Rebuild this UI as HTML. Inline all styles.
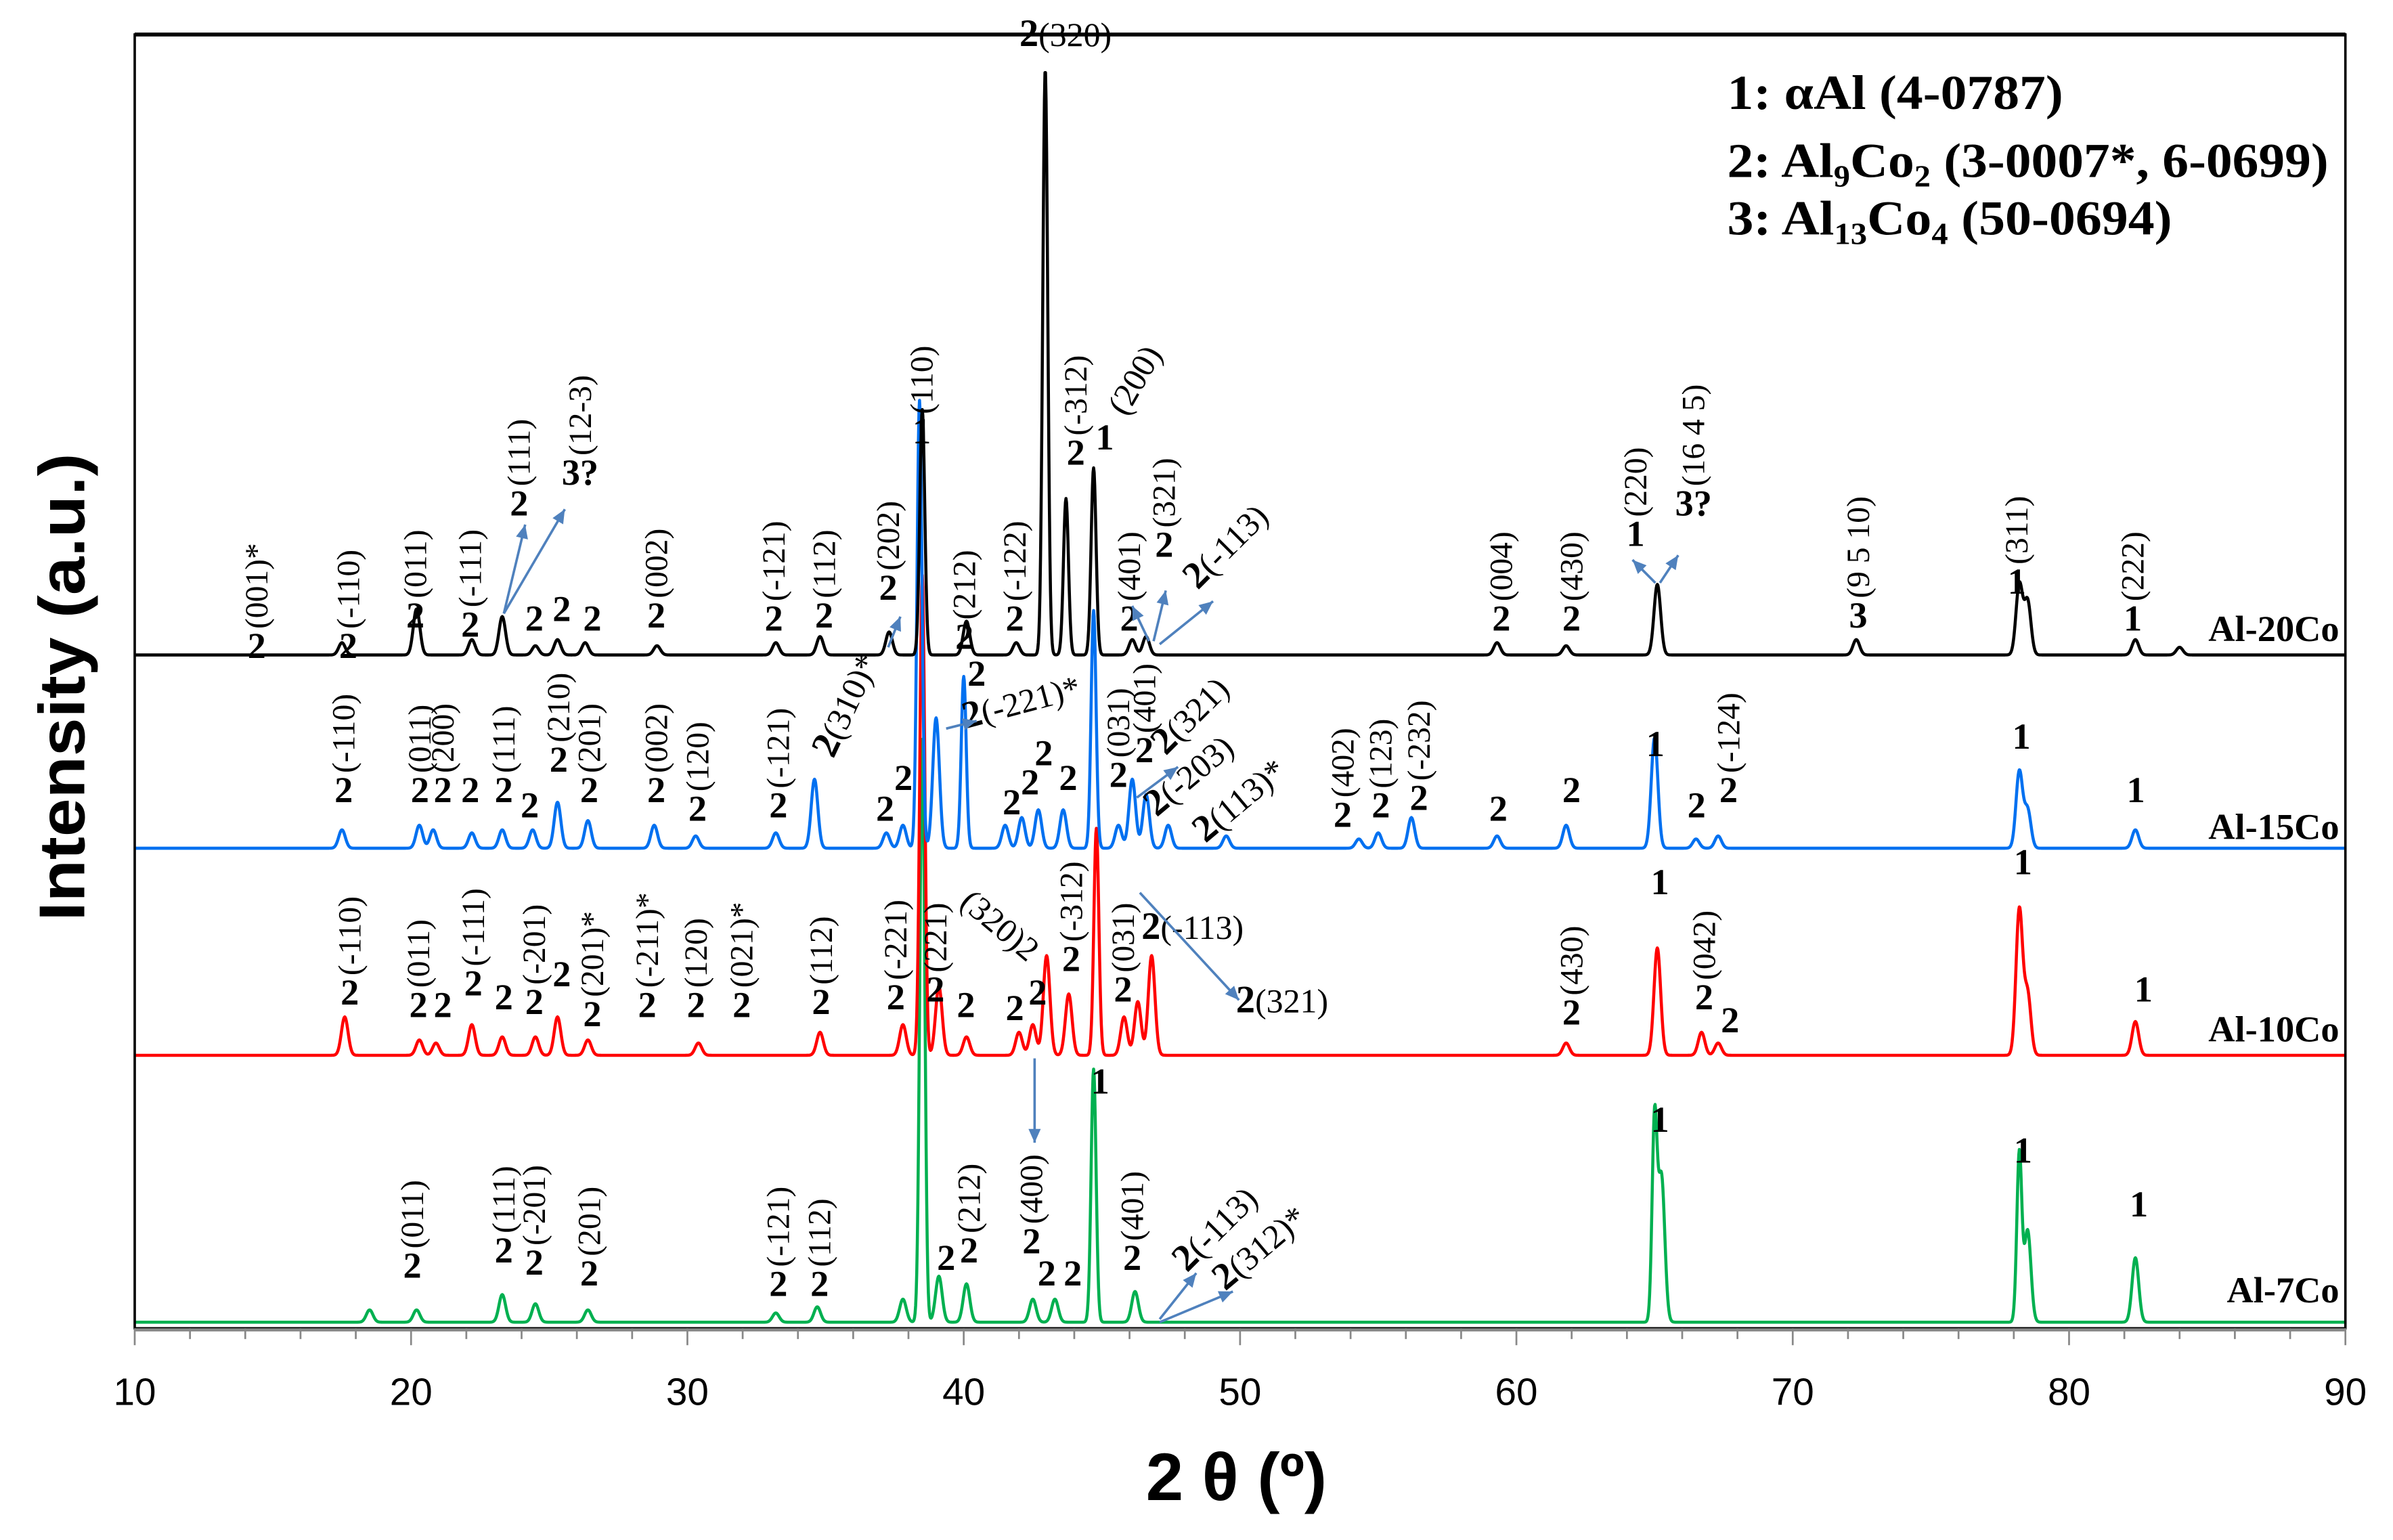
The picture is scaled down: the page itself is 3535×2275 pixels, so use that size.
<!DOCTYPE html>
<html><head><meta charset="utf-8"><style>
html,body{margin:0;padding:0;background:#fff;}
svg{display:block;}
text{font-family:"Liberation Serif",serif;fill:#000;}
.n{font-weight:bold;font-size:24px;text-anchor:middle;}
.h{font-size:21px;}
.ax{font-family:"Liberation Sans",sans-serif;}
</style></head><body>
<svg id="chart" width="3535" height="2275" viewBox="0 0 1560 1004" xmlns="http://www.w3.org/2000/svg">
<rect x="0" y="0" width="1560" height="1004" fill="#fff"/>
<g id="series"></g>
<g id="ann"></g>
<rect x="87.8" y="22.5" width="1441.2" height="843.5" fill="none" stroke="#000" stroke-width="1.6"/>
<line x1="87.8" y1="22.5" x2="1529" y2="22.5" stroke="#000" stroke-width="2.5"/>
<g id="axis"></g>
<text class="ax" x="806" y="978" font-size="44" font-weight="bold" text-anchor="middle" textLength="118" lengthAdjust="spacingAndGlyphs">2 θ (º)</text>
<text class="ax" transform="translate(55,448) rotate(-90)" font-size="42" font-weight="bold" text-anchor="middle" textLength="305" lengthAdjust="spacingAndGlyphs">Intensity (a.u.)</text>
<g font-weight="bold" font-size="32">
<text x="1126" y="71" textLength="219" lengthAdjust="spacingAndGlyphs">1: αAl (4-0787)</text>
<text x="1126" y="115.5" textLength="392" lengthAdjust="spacingAndGlyphs">2: Al<tspan font-size="20" dy="6">9</tspan><tspan dy="-6">Co</tspan><tspan font-size="20" dy="6">2</tspan><tspan dy="-6"> (3-0007*, 6-0699)</tspan></text>
<text x="1126" y="153" textLength="290" lengthAdjust="spacingAndGlyphs">3: Al<tspan font-size="20" dy="6">13</tspan><tspan dy="-6">Co</tspan><tspan font-size="20" dy="6">4</tspan><tspan dy="-6"> (50-0694)</tspan></text>
</g>
<g font-weight="bold" font-size="24" text-anchor="end">
<text x="1525" y="418">Al-20Co</text>
<text x="1525" y="547">Al-15Co</text>
<text x="1525" y="679">Al-10Co</text>
<text x="1525" y="849">Al-7Co</text>
</g>
</svg>
<script>
// Data: peak positions (2θ deg) and heights (intensity units) per sample
const xTicks = [10,20,30,40,50,60,70,80,90];
const baseAl20 = 427, baseAl15 = 553, baseAl10 = 688, baseAl7 = 862;
const posAl20 = [17.5,20.2,22.2,23.3,24.5,25.3,26.3,28.9,33.2,34.8,37.3,38.5,40.1,41.9,42.95,43.7,44.7,46.1,46.6,59.3,61.8,65.1,72.3,78.2,78.5,82.4,84.0];
const hAl20   = [8,30,10,25,6,10,8,6,8,12,15,160,22,8,382,102,122,10,12,8,6,46,10,46,35,10,5];
const posAl15 = [17.5,20.3,20.8,22.2,23.3,24.4,25.3,26.4,28.8,30.3,33.2,34.6,37.2,37.8,38.4,39.0,40.0,41.5,42.1,42.7,43.6,44.7,45.6,46.1,46.6,47.4,49.5,54.3,55.0,56.2,59.3,61.8,65.0,66.5,67.3,78.2,78.5,82.4];
const hAl15   = [12,15,12,10,12,12,30,18,15,8,10,45,10,15,292,85,112,15,20,25,25,155,15,45,35,15,8,6,10,20,8,15,72,6,8,50,25,12];
const posAl10 = [17.6,20.3,20.9,22.2,23.3,24.5,25.3,26.4,30.4,34.8,37.8,38.5,39.1,40.1,42.0,42.5,43.0,43.8,44.8,45.8,46.3,46.8,61.8,65.1,66.7,67.3,78.2,78.5,82.4];
const hAl10   = [25,10,8,20,12,12,25,10,8,15,20,313,45,12,15,20,65,40,148,25,35,65,8,70,15,8,95,40,22];
const posAl7  = [18.5,20.2,23.3,24.5,26.4,33.2,34.7,37.8,38.5,39.1,40.1,42.5,43.3,44.7,46.2,65.0,65.25,78.2,78.5,82.4];
const hAl7    = [8,8,18,12,8,6,10,15,380,30,25,15,15,165,20,130,95,110,60,42];

const X0=87.8, X1=1529, XMIN=10, XMAX=90;
function xs(v){return X0+(v-XMIN)*(X1-X0)/(XMAX-XMIN);}
function ys(base,i){return base-i;}
function fx(x){return 87.8+(x-88)*0.99434;}
const NS='http://www.w3.org/2000/svg';
function mk(tag,attrs,parent){const e=document.createElementNS(NS,tag);for(const k in attrs)e.setAttribute(k,attrs[k]);parent.appendChild(e);return e;}

const sg=document.getElementById('series');
function drawSeries(pos,h,base,color,name){
  let d='';
  for(let t=XMIN;t<=XMAX+1e-9;t+=0.02){
    let I=0;
    for(let k=0;k<pos.length;k++){const w=(h[k]>100?0.09:0.12);const z=(t-pos[k])/w;I+=h[k]*Math.exp(-0.5*z*z);}
    d+=(d?'L':'M')+xs(t).toFixed(2)+','+ys(base,I).toFixed(2);
  }
  const p=mk('path',{d:d,fill:'none',stroke:color,'stroke-width':'2','stroke-linejoin':'round'},sg);
  
  
}
drawSeries(posAl7,hAl7,baseAl7,'#00b050','series-al-7co');
drawSeries(posAl10,hAl10,baseAl10,'#ff0000','series-al-10co');
drawSeries(posAl15,hAl15,baseAl15,'#0070f0','series-al-15co');
drawSeries(posAl20,hAl20,baseAl20,'#000000','series-al-20co');

// axis
const ag=document.getElementById('axis');
for(let v=10;v<=90;v+=2){
  const major=(v%10===0);
  const l=mk('line',{x1:xs(v),x2:xs(v),y1:866,y2:major?877:873,stroke:'#888','stroke-width':'1.2'},ag);
  
  
}
mk('line',{x1:87.8,x2:1529,y1:867,y2:867,stroke:'#888','stroke-width':'2'},ag);
xTicks.forEach(v=>{
  const t=mk('text',{x:xs(v),y:916,'font-size':'25','text-anchor':'middle','class':'ax'},ag);
  t.textContent=v;
  
  
});

// annotations: [x, y, number, hkl]
const ann=[
[168,438,'2','(001)*'],[228,438,'2','(-110)'],[272,418,'2','(011)'],[308,424,'2','(-111)'],[340,345,'2','(111)'],[380,325,'3?','(12-3)'],
[350,420,'2',''],[368,414,'2',''],[388,420,'2',''],[430,418,'2','(002)'],[507,420,'2','(-121)'],[540,418,'2','(112)'],[582,400,'2','(202)'],
[604,298,'1','(110)'],[632,432,'2','(212)'],[665,420,'2','(-122)'],[705,312,'2','(-312)'],[724,302,'1',''],[740,420,'2','(401)'],
[763,372,'2','(321)'],[984,420,'2','(004)'],[1030,420,'2','(430)'],[1072,365,'1','(220)'],[1110,345,'3?','(16 4 5)'],[1218,418,'3','(9 5 10)'],
[1322,396,'1','(311)'],[1398,420,'1','(222)'],
[225,532,'2','(-110)'],[275,532,'2','(011)'],[290,532,'2','(200)'],[308,532,'2',''],[330,532,'2','(111)'],[347,542,'2',''],[366,512,'2','(210)'],
[386,532,'2','(201)'],[430,532,'2','(002)'],[457,544,'2','(120)'],[510,542,'2','(-121)'],[580,544,'2',''],[592,524,'2',''],[640,456,'2',''],
[663,540,'2',''],[675,527,'2',''],[684,508,'2',''],[700,524,'2',''],[733,522,'2','(031)'],[750,506,'2','(401)'],[880,548,'2','(402)'],
[905,542,'2','(123)'],[930,537,'2','(-232)'],[982,544,'2',''],[1030,532,'2',''],[1085,502,'1',''],[1112,542,'2',''],[1133,532,'2','(-124)'],
[1325,497,'1',''],[1400,532,'1',''],
[229,664,'2','(-110)'],[274,672,'2','(011)'],[290,672,'2',''],[310,658,'2','(-111)'],[330,667,'2',''],[350,670,'2','(-201)'],[368,652,'2',''],
[388,678,'2','(201)*'],[424,672,'2','(-211)*'],[456,672,'2','(120)'],[486,672,'2','(021)*'],[538,670,'2','(112)'],[587,667,'2','(-221)'],
[613,662,'2','(221)'],[633,672,'2',''],[665,674,'2',''],[680,664,'2',''],[702,642,'2','(-312)'],[736,662,'2','(031)'],[1030,677,'2','(430)'],
[1088,592,'1',''],[1117,667,'2','(042)'],[1134,682,'2',''],[1326,579,'1',''],[1405,662,'1',''],
[270,842,'2','(011)'],[330,832,'2','(111)'],[350,840,'2','(-201)'],[386,847,'2','(201)'],[510,854,'2','(-121)'],[537,854,'2','(112)'],
[620,837,'2',''],[635,832,'2','(212)'],[676,826,'2','(400)'],[686,847,'2',''],[703,847,'2',''],[721,722,'1',''],[742,837,'2','(401)'],
[1088,747,'1',''],[1326,767,'1',''],[1402,802,'1','']
];
const ng=document.getElementById('ann');
ann.forEach(a=>{
  const y=a[1]-9, x=fx(a[0]);
  const t=mk('text',{x:x,y:y,'class':'n'},ng);
  t.textContent=a[2];
  
  
  if(a[3]){
    const r=mk('text',{'class':'h',transform:'translate('+(x+7)+','+(y-19)+') rotate(-90)'},ng);
    r.textContent=a[3];
    
    
  }
});
// free labels: [x,y,bold-prefix,hkl,rotation]
const free=[
[668,30,'2','(320)',0],[738,272,'','(200)',-60],[785,385,'2','(-113)',-45],[546,495,'2','(310)*',-65],[633,475,'2','(-221)*',-15],
[764,493,'2','(321)',-45],[758,533,'2','(-203)',-40],[790,550,'2','(113)*',-40],[628,590,'','(320)2',40],[748,612,'2','(-113)',0],[810,660,'2','(321)',0],
[778,830,'2','(-113)',-45],[803,842,'2','(312)*',-40]
];
free.forEach(f=>{
  const t=mk('text',{transform:'translate('+fx(f[0])+','+f[1]+') rotate('+f[4]+')','font-size':'22'},ng);
  if(f[2]){const b=mk('tspan',{'font-weight':'bold','font-size':'25'},t);b.textContent=f[2];}
  const s=mk('tspan',{},t);s.textContent=f[3];
  
  
});
// arrows
const arrows=[[330,400,344,342],[330,400,370,332],[582,422,590,402],[753,418,742,395],[756,418,764,385],[760,420,795,392],
[1085,380,1070,365],[1088,380,1100,362],[620,475,640,470],[745,520,772,500],[747,582,812,652],[678,690,678,745],[760,860,784,830],[760,862,808,842]];
arrows.forEach(a=>{
  const x1=fx(a[0]), x2=fx(a[2]);
  const l=mk('line',{x1:x1,y1:a[1],x2:x2,y2:a[3],stroke:'#4f81bd','stroke-width':'1.6'},ng);
  
  
  const ang=Math.atan2(a[3]-a[1],x2-x1);const L=9,W=4;
  const bx=x2-L*Math.cos(ang),by=a[3]-L*Math.sin(ang);
  const p=mk('polygon',{points:x2+','+a[3]+' '+(bx-W*Math.sin(ang))+','+(by+W*Math.cos(ang))+' '+(bx+W*Math.sin(ang))+','+(by-W*Math.cos(ang)),fill:'#4f81bd'},ng);
  
  
});
</script>
</body></html>
